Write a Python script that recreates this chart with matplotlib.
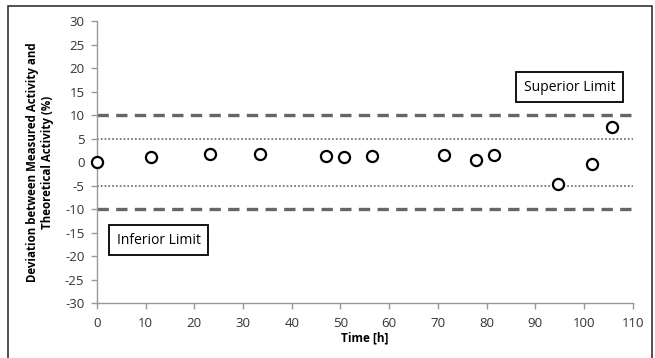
import matplotlib.pyplot as plt
from matplotlib.patches import Rectangle

time_h = [0, 11.1, 23.2, 33.4, 47.0, 50.7, 56.4, 71.2, 77.8, 81.5, 94.6, 101.6, 105.7]
deviation = [0.0, 1.1, 1.7, 1.7, 1.3, 1.1, 1.3, 1.5, 0.4, 1.5, -4.7, -0.4, 7.4]

limit_dashed = [10, -10]
limit_dotted = [5, -5]

plt.rcParams['font.family'] = ['Open Sans', 'DejaVu Sans']
plt.rcParams['axes.unicode_minus'] = False

fig = plt.figure(figsize=(6.55, 3.58), dpi=100)
ax = fig.add_axes([0.148, 0.1536, 0.818, 0.787])

# outer frame like the original figure border
fig.patches.append(Rectangle((8 / 655, -0.1), (652 - 8) / 655, 1.1 - 6 / 358,
                             transform=fig.transFigure, fill=False,
                             edgecolor='#333333', linewidth=1.2))

for v in limit_dashed:
    ax.axhline(v, color='#666666', linewidth=2.4, linestyle=(0, (3.4, 2.2)), zorder=1)
for v in limit_dotted:
    ax.axhline(v, color='#777777', linewidth=1.3, linestyle=(0, (1, 1.1)), zorder=1)

ax.plot(time_h, deviation, linestyle='none', marker='o', markersize=8,
        markerfacecolor='white', markeredgecolor='black', markeredgewidth=1.6,
        zorder=3, clip_on=False)

ax.set_xlim(0, 110)
ax.set_ylim(-30, 30)
ax.set_xticks(range(0, 111, 10))
ax.set_yticks(range(-30, 31, 5))

for s in ['top', 'right']:
    ax.spines[s].set_visible(False)
for s in ['left', 'bottom']:
    ax.spines[s].set_color('#999999')
    ax.spines[s].set_linewidth(1)
ax.tick_params(axis='both', colors='#999999', labelcolor='#333333',
               labelsize=9.5, length=4, width=1)
ax.tick_params(axis='y', pad=5)
ax.tick_params(axis='x', pad=6)

ax.set_xlabel('Time [h]', fontsize=8.5, fontweight='bold', labelpad=1)
ax.set_ylabel('Deviation between Measured Activity and\nTheoretical Activity (%)',
              fontsize=8.3, fontweight='bold', labelpad=8)

box = dict(boxstyle='square,pad=0.55', facecolor='white', edgecolor='black', linewidth=1.3)
ax.text(97.1, 16, 'Superior Limit', fontsize=10, ha='center', va='center', bbox=box)
ax.text(12.7, -16.6, 'Inferior Limit', fontsize=10, ha='center', va='center', bbox=box)

fig.savefig('out.png', dpi=100)
